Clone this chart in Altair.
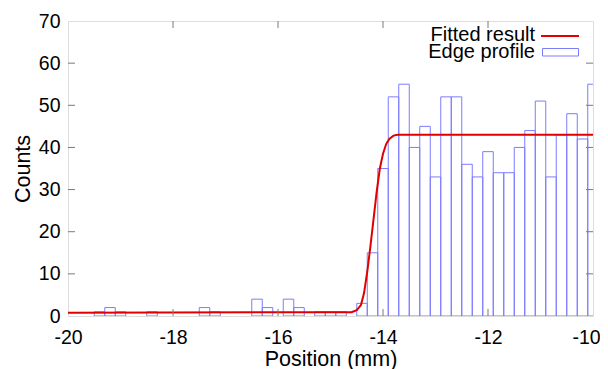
import altair as alt
import pandas as pd

# Histogram (bin centres, mm) and counts
bin_centers = [-19.4, -19.2, -19.0, -18.4, -17.4, -17.2, -16.4, -16.2, -15.8, -15.6,
               -15.2, -15.0, -14.8, -14.4, -14.2, -14.0, -13.8, -13.6, -13.4, -13.2,
               -13.0, -12.8, -12.6, -12.4, -12.2, -12.0, -11.8, -11.6, -11.4, -11.2,
               -11.0, -10.8, -10.6, -10.4, -10.2, -10.0]
bin_counts = [1, 2, 1, 1, 2, 1, 4, 2, 4, 2,
              1, 1, 1, 3, 15, 35, 52, 55, 40, 45,
              33, 52, 52, 36, 33, 39, 34, 34, 40, 44,
              51, 33, 43, 48, 42, 55]

# Fitted curve points
fit_x = [-20.0, -14.6, -14.5, -14.42, -14.36, -14.3, -14.24, -14.18, -14.12,
         -14.06, -14.0, -13.94, -13.88, -13.8, -13.72, -10.0]
fit_y = [0.8, 0.9, 1.4, 2.6, 5.5, 10.5, 16.5, 23.0, 29.5,
         35.0, 38.5, 40.8, 42.0, 42.8, 43.0, 43.0]

x_ticks = [-20, -18, -16, -14, -12, -10]
y_ticks = [0, 10, 20, 30, 40, 50, 60, 70]
x_inner_ticks = [-18, -16, -14, -12]
y_inner_ticks = [10, 20, 30, 40, 50, 60]
legend_labels = ["Fitted result", "Edge profile"]

W, H = 525, 295
TICK = 7
GRAY = "#7a7a7a"
BLUE = "#7c7cff"
RED = "#e00000"
FONT = "Liberation Sans"

hist = pd.DataFrame({"x": bin_centers, "count": bin_counts})
fit = pd.DataFrame({"x": fit_x, "y": fit_y})

xscale = alt.Scale(domain=[-20, -10], nice=False, zero=False)
yscale = alt.Scale(domain=[0, 70], nice=False)

xaxis = alt.Axis(values=x_ticks, ticks=False, domain=False, grid=False,
                 labelExpr="'' + datum.value",
                 labelOffset={"expr": "datum.value == -10 ? -7 : 0"},
                 labelFontSize=19.5, labelPadding=12, labelFont=FONT, labelColor="black",
                 title="Position (mm)", titleFontSize=21.5, titleFont=FONT,
                 titleFontWeight="normal", titlePadding=2, titleColor="black",
                 labelFlush=False)
yaxis = alt.Axis(values=y_ticks, ticks=False, domain=False, grid=False,
                 labelFontSize=19.5, labelPadding=8, labelFont=FONT, labelColor="black",
                 title="Counts", titleFontSize=21.5, titleFont=FONT,
                 titleFontWeight="normal", titlePadding=4, titleColor="black",
                 labelFlush=False)

bars = alt.Chart(hist).transform_calculate(
    x0="datum.x - 0.1", x1="datum.x + 0.1", base="0"
).mark_rect(filled=False, stroke=BLUE, strokeWidth=1, clip=True).encode(
    x=alt.X("x0:Q", scale=xscale, axis=xaxis),
    x2="x1:Q",
    y=alt.Y("count:Q", scale=yscale, axis=yaxis),
    y2="base:Q",
)

line = alt.Chart(fit).mark_line(color=RED, strokeWidth=2, clip=True).encode(
    x=alt.X("x:Q", scale=xscale),
    y=alt.Y("y:Q", scale=yscale),
)

xt = pd.DataFrame({"v": x_inner_ticks})
yt = pd.DataFrame({"v": y_inner_ticks})
bot_ticks = alt.Chart(xt).mark_rule(color=GRAY, strokeWidth=1).encode(
    x=alt.X("v:Q", scale=xscale), y=alt.value(H), y2=alt.value(H - TICK))
top_ticks = alt.Chart(xt).mark_rule(color=GRAY, strokeWidth=1).encode(
    x=alt.X("v:Q", scale=xscale), y=alt.value(0), y2=alt.value(TICK))
left_ticks = alt.Chart(yt).mark_rule(color=GRAY, strokeWidth=1).encode(
    y=alt.Y("v:Q", scale=yscale), x=alt.value(0), x2=alt.value(TICK))
right_ticks = alt.Chart(yt).mark_rule(color=GRAY, strokeWidth=1).encode(
    y=alt.Y("v:Q", scale=yscale), x=alt.value(W), x2=alt.value(W - TICK))

leg1 = alt.Chart(pd.DataFrame({"label": [legend_labels[0]]})).mark_text(
    align="right", baseline="middle", fontSize=20, font=FONT, color="black").encode(
    text="label:N", x=alt.value(467), y=alt.value(14))
leg2 = alt.Chart(pd.DataFrame({"label": [legend_labels[1]]})).mark_text(
    align="right", baseline="middle", fontSize=20, font=FONT, color="black").encode(
    text="label:N", x=alt.value(467), y=alt.value(31))
leg_line = alt.Chart(pd.DataFrame({"label": [legend_labels[0]]})).mark_rule(
    color=RED, strokeWidth=2).encode(
    x=alt.value(473), x2=alt.value(511), y=alt.value(15))
leg_box = alt.Chart(pd.DataFrame({"label": [legend_labels[1]]})).mark_rect(
    filled=False, stroke=BLUE, strokeWidth=1).encode(
    x=alt.value(474.5), x2=alt.value(510.5), y=alt.value(27.5), y2=alt.value(35))

chart = alt.layer(
    bars, line, bot_ticks, top_ticks, left_ticks, right_ticks,
    leg1, leg2, leg_line, leg_box
).properties(
    width=W, height=H,
    autosize=alt.AutoSizeParams(type="none"),
    padding={"left": 60, "top": 13, "right": 7, "bottom": 53},
).configure_view(stroke=GRAY, strokeWidth=1).configure(background="white")

chart.save("out.html", embed_options={"renderer": "svg", "actions": False})
